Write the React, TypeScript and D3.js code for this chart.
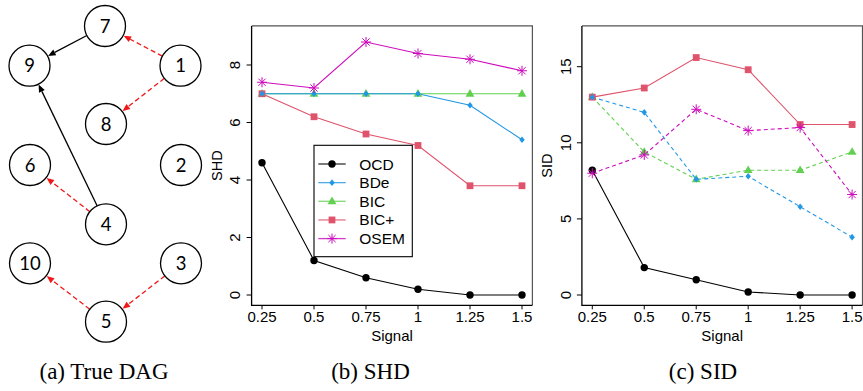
import React from "react";
import * as d3 from "d3";

// ---- data ----
const signal = [0.25, 0.5, 0.75, 1, 1.25, 1.5];
const signalLabels = ["0.25", "0.5", "0.75", "1", "1.25", "1.5"];
const methods = ["OCD", "BDe", "BIC", "BIC+", "OSEM"];

const shdOCD = [4.6, 1.2, 0.6, 0.2, 0, 0];
const shdBDe = [7, 7, 7, 7, 6.6, 5.4];
const shdBIC = [7, 7, 7, 7, 7, 7];
const shdBICplus = [7, 6.2, 5.6, 5.2, 3.8, 3.8];
const shdOSEM = [7.4, 7.2, 8.8, 8.4, 8.2, 7.8];

const sidOCD = [8.2, 1.8, 1.0, 0.2, 0, 0];
const sidBDe = [13, 12, 7.6, 7.8, 5.8, 3.8];
const sidBIC = [13, 9.4, 7.6, 8.2, 8.2, 9.4];
const sidBICplus = [13, 13.6, 15.6, 14.8, 11.2, 11.2];
const sidOSEM = [8, 9.2, 12.2, 10.8, 11, 6.6];

const shdTicks = [0, 2, 4, 6, 8];
const sidTicks = [0, 5, 10, 15];

// DAG: nodes and edges (solid = black, dashed = red)
const dagNodes = ["1", "2", "3", "4", "5", "6", "7", "8", "9", "10"];
const dagSolidEdges: [string, string][] = [
  ["7", "9"],
  ["4", "9"],
];
const dagDashedEdges: [string, string][] = [
  ["1", "7"],
  ["1", "8"],
  ["4", "6"],
  ["5", "10"],
  ["3", "5"],
];

// ---- styles ----
const colors: Record<string, string> = {
  OCD: "#000000",
  BDe: "#2297E6",
  BIC: "#61D04F",
  "BIC+": "#DF536B",
  OSEM: "#CD0BBC",
};
const shapes: Record<string, string> = {
  OCD: "circle",
  BDe: "diamond",
  BIC: "triangle",
  "BIC+": "square",
  OSEM: "asterisk",
};
const drawOrder = ["OCD", "BIC", "BIC+", "BDe", "OSEM"];

// node layout for the DAG picture
const nodePos: Record<string, [number, number]> = {
  "7": [105, 26],
  "9": [29.5, 65.7],
  "1": [180.5, 65.7],
  "8": [106, 124],
  "6": [30, 165],
  "2": [181, 165],
  "4": [106, 224.3],
  "10": [30, 263.3],
  "3": [181, 263.3],
  "5": [106, 321.7],
};

const SANS = "Liberation Sans, Arial, Helvetica, sans-serif";
const SERIF = "Liberation Serif, Times New Roman, serif";

function Marker({ kind, x, y, color }: { kind: string; x: number; y: number; color: string }) {
  if (kind === "circle") return <circle cx={x} cy={y} r={3.7} fill={color} />;
  if (kind === "diamond")
    return <path d={`M${x},${y - 3.3}L${x + 2.7},${y}L${x},${y + 3.3}L${x - 2.7},${y}Z`} fill={color} />;
  if (kind === "triangle")
    return <path d={`M${x},${y - 4.8}L${x + 4.4},${y + 2.9}L${x - 4.4},${y + 2.9}Z`} fill={color} />;
  if (kind === "square") return <rect x={x - 3.4} y={y - 3.4} width={6.8} height={6.8} fill={color} />;
  const r = 5;
  const q = 3.6;
  return (
    <path
      d={`M${x - r},${y}L${x + r},${y}M${x},${y - r}L${x},${y + r}M${x - q},${y - q}L${x + q},${y + q}M${x - q},${y + q}L${x + q},${y - q}`}
      stroke={color}
      strokeWidth={1}
      fill="none"
    />
  );
}

type Series = { name: string; values: number[]; dashed: boolean };

function Panel({
  left,
  width,
  yMax,
  yTicks,
  yLabel,
  series,
  legend,
}: {
  left: number;
  width: number;
  yMax: number;
  yTicks: number[];
  yLabel: string;
  series: Series[];
  legend: boolean;
}) {
  const top = 25.9;
  const bottom = 305.35;
  const right = left + width;
  const x = d3.scaleLinear().domain([0.2, 1.55]).range([left, right]);
  const y = d3
    .scaleLinear()
    .domain([-0.04 * yMax, 1.04 * yMax])
    .range([bottom, top]);
  const line = d3
    .line<number>()
    .x((_, i) => x(signal[i]))
    .y((d) => y(d));

  const ordered = drawOrder.map((n) => series.find((s) => s.name === n)!).filter(Boolean);

  return (
    <g>
      {/* box */}
      <path d={`M${left},${top}H${right}V${bottom}`} stroke="#555" strokeWidth={1.2} fill="none" />
      <path d={`M${left},${top}V${bottom}H${right}`} stroke="#000" strokeWidth={1.3} fill="none" />
      {/* x axis */}
      {signal.map((s, i) => (
        <g key={s}>
          <line x1={x(s)} x2={x(s)} y1={bottom} y2={bottom + 4} stroke="#000" strokeWidth={1} />
          <text x={x(s)} y={322} textAnchor="middle" fontSize={15} fontFamily={SANS}>
            {signalLabels[i]}
          </text>
        </g>
      ))}
      <text x={(left + right) / 2} y={341} textAnchor="middle" fontSize={15} fontFamily={SANS}>
        Signal
      </text>
      {/* y axis */}
      {yTicks.map((t) => (
        <g key={t}>
          <line x1={left - 5} x2={left} y1={y(t)} y2={y(t)} stroke="#000" strokeWidth={1} />
          <text
            transform={`translate(${left - 11.2},${y(t)}) rotate(-90)`}
            textAnchor="middle"
            fontSize={15}
            fontFamily={SANS}
          >
            {t}
          </text>
        </g>
      ))}
      <text
        transform={`translate(${left - 29.6},${(top + bottom) / 2}) rotate(-90)`}
        textAnchor="middle"
        fontSize={14.5}
        fontFamily={SANS}
      >
        {yLabel}
      </text>
      {/* lines */}
      {ordered.map((s) => (
        <path
          key={s.name + "l"}
          d={line(s.values) ?? ""}
          stroke={colors[s.name]}
          strokeWidth={1.1}
          strokeDasharray={s.dashed ? "4,3" : undefined}
          fill="none"
        />
      ))}
      {ordered.map((s) =>
        s.values.map((v, i) => (
          <Marker key={s.name + i} kind={shapes[s.name]} x={x(signal[i])} y={y(v)} color={colors[s.name]} />
        ))
      )}
      {legend && (
        <g>
          <rect x={314} y={145.3} width={98.3} height={111.4} fill="#fff" stroke="#000" strokeWidth={1.1} />
          {methods.map((m, i) => {
            const ly = 164 + i * 18.65;
            return (
              <g key={m}>
                <line x1={318.3} x2={345.7} y1={ly} y2={ly} stroke={colors[m]} strokeWidth={1.3} opacity={0.8} />
                <Marker kind={shapes[m]} x={332} y={ly} color={colors[m]} />
                <text x={359.3} y={ly + 5.5} fontSize={15.5} fontFamily={SANS}>
                  {m}
                </text>
              </g>
            );
          })}
        </g>
      )}
    </g>
  );
}

function Dag() {
  const R = 20.5;
  const edge = (a: string, b: string, color: string, dashed: boolean) => {
    const [x1, y1] = nodePos[a];
    const [x2, y2] = nodePos[b];
    const dx = x2 - x1;
    const dy = y2 - y1;
    const len = Math.hypot(dx, dy);
    const ux = dx / len;
    const uy = dy / len;
    const sx = x1 + ux * R;
    const sy = y1 + uy * R;
    const ex = x2 - ux * (R + 0.5);
    const ey = y2 - uy * (R + 0.5);
    const hl = 7.5;
    const hw = 3.2;
    const bx = ex - ux * hl;
    const by = ey - uy * hl;
    return (
      <g key={a + "-" + b}>
        <line
          x1={sx}
          y1={sy}
          x2={bx}
          y2={by}
          stroke={color}
          strokeWidth={1.3}
          strokeDasharray={dashed ? "5,3" : undefined}
        />
        <path
          d={`M${ex},${ey}L${bx - uy * hw},${by + ux * hw}L${bx + uy * hw},${by - ux * hw}Z`}
          fill={color}
        />
      </g>
    );
  };
  return (
    <g>
      {dagSolidEdges.map(([a, b]) => edge(a, b, "#000", false))}
      {dagDashedEdges.map(([a, b]) => edge(a, b, "#f01818", true))}
      {dagNodes.map((n) => (
        <g key={n}>
          <circle cx={nodePos[n][0]} cy={nodePos[n][1]} r={R} fill="#fff" stroke="#000" strokeWidth={1.3} />
          <text
            x={nodePos[n][0]}
            y={nodePos[n][1] + 6.5}
            textAnchor="middle"
            fontSize={18.5}
            fontFamily="Lato, Open Sans, sans-serif"
          >
            {n}
          </text>
        </g>
      ))}
    </g>
  );
}

export default function App() {
  const shdSeries: Series[] = [
    { name: "OCD", values: shdOCD, dashed: false },
    { name: "BDe", values: shdBDe, dashed: false },
    { name: "BIC", values: shdBIC, dashed: false },
    { name: "BIC+", values: shdBICplus, dashed: false },
    { name: "OSEM", values: shdOSEM, dashed: false },
  ];
  const sidSeries: Series[] = [
    { name: "OCD", values: sidOCD, dashed: false },
    { name: "BDe", values: sidBDe, dashed: true },
    { name: "BIC", values: sidBIC, dashed: true },
    { name: "BIC+", values: sidBICplus, dashed: false },
    { name: "OSEM", values: sidOSEM, dashed: true },
  ];
  return (
    <svg
      width={863}
      height={391}
      style={{ position: "absolute", left: 0, top: 0, background: "#fff" }}
    >
      <rect width={863} height={391} fill="#fff" />
      <Dag />
      <Panel left={251.6} width={280.8} yMax={9} yTicks={shdTicks} yLabel="SHD" series={shdSeries} legend />
      <Panel left={581.9} width={280.6} yMax={17} yTicks={sidTicks} yLabel="SID" series={sidSeries} legend={false} />
      <text x={104} y={379} textAnchor="middle" fontSize={23} fontFamily={SERIF}>
        (a) True DAG
      </text>
      <text x={370.5} y={379} textAnchor="middle" fontSize={23} fontFamily={SERIF}>
        (b) SHD
      </text>
      <text x={703} y={379} textAnchor="middle" fontSize={23} fontFamily={SERIF}>
        (c) SID
      </text>
    </svg>
  );
}
